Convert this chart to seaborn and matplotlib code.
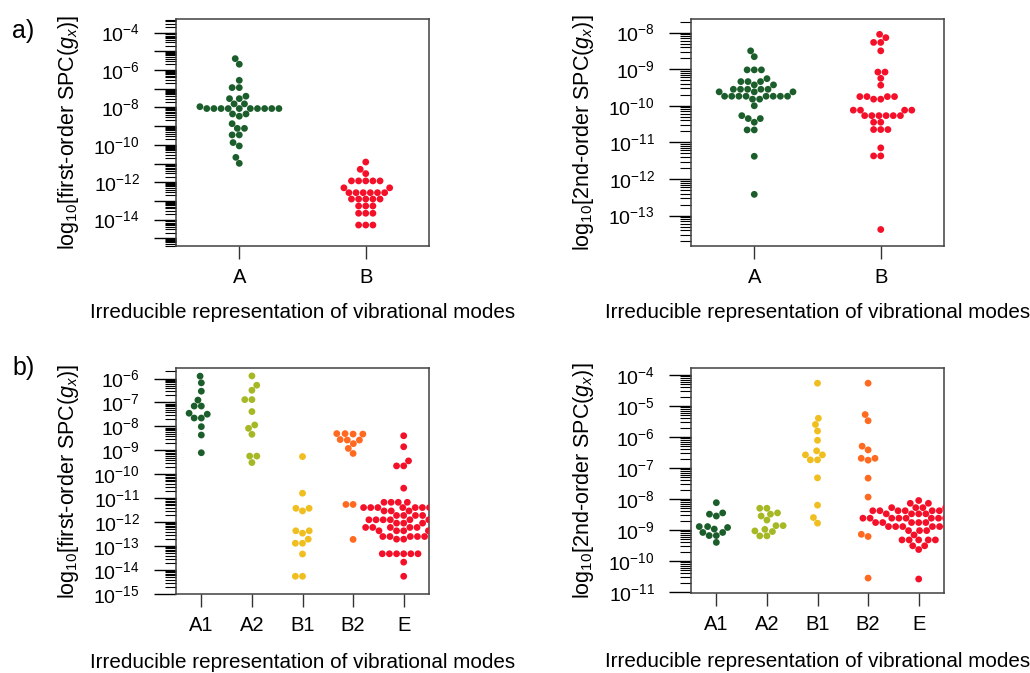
import numpy as np
import pandas as pd
import seaborn as sns
import matplotlib.pyplot as plt
from matplotlib import ticker
from seaborn import categorical

# log10 of SPC(g_x)
modes_a = ['A', 'B']
first_A = [-5.39, -5.69, -6.55, -6.94, -6.94, -7.40, -7.53, -7.53, -7.81, -7.81, -7.96,
           -8.06, -8.06, -8.06, -8.06, -8.06, -8.06, -8.06, -8.06, -8.06, -8.06,
           -8.35, -8.35, -8.47, -8.87, -9.12, -9.12, -9.47, -9.47, -9.88, -10.06, -10.67, -10.99]
first_B = [-10.92, -11.31, -11.54, -11.93, -11.93, -11.93, -11.93, -11.93, -12.30, -12.30,
           -12.56, -12.56, -12.56, -12.56, -12.56, -12.56, -12.90, -12.90, -12.90, -12.90, -12.90,
           -13.27, -13.27, -13.27, -13.66, -13.66, -13.66, -14.29, -14.29, -14.29]
second_A = [-8.50, -8.66, -9.02, -9.02, -9.02, -9.26, -9.34, -9.34, -9.34, -9.43, -9.43,
            -9.55, -9.55, -9.55, -9.55, -9.55, -9.62, -9.62, -9.62,
            -9.74, -9.74, -9.74, -9.74, -9.74, -9.74, -9.74, -9.74, -9.82, -9.82,
            -10.00, -10.27, -10.35, -10.35, -10.45, -10.66, -10.66, -11.38, -12.42]
second_B = [-8.05, -8.14, -8.27, -8.27, -8.50, -9.08, -9.08, -9.25, -9.44,
            -9.75, -9.75, -9.75, -9.75, -9.82, -9.82, -10.12, -10.12, -10.12, -10.12,
            -10.27, -10.27, -10.27, -10.27, -10.27, -10.27, -10.45, -10.45,
            -10.65, -10.65, -10.65, -11.15, -11.37, -11.37, -13.38]

modes_b = ['A1', 'A2', 'B1', 'B2', 'E']
first_A1 = [-5.90, -6.18, -6.53, -6.90, -7.15, -7.15, -7.45, -7.49, -7.65, -7.65, -8.01, -8.36, -9.10]
first_A2 = [-5.89, -6.28, -6.49, -6.88, -6.88, -7.38, -7.94, -8.08, -8.33, -9.24, -9.24, -9.51]
first_B1 = [-9.26, -10.79, -11.42, -11.42, -11.53, -12.36, -12.36, -12.46, -12.71, -12.88, -12.88,
            -13.33, -14.26, -14.26]
first_B2 = [-8.30, -8.30, -8.32, -8.32, -8.55, -8.57, -8.57, -8.72, -8.92, -9.13, -11.26, -11.26, -12.72]
first_E = ([-8.39, -8.85, -9.44, -9.65, -9.65, -10.58] + [-11.17] * 5 + [-11.39] * 9 + [-11.53] * 3
           + [-11.72] * 4 + [-11.90] * 8 + [-12.04] * 3 + [-12.22] * 7 + [-12.36] * 4
           + [-12.60] * 5 + [-12.71] * 2 + [-13.32] * 6 + [-13.67, -14.26])
second_A1 = [-8.12, -8.45, -8.49, -8.55, -8.89, -8.89, -8.92, -8.97, -9.08, -9.08, -9.18, -9.18, -9.40]
second_A2 = [-8.30, -8.30, -8.45, -8.49, -8.55, -8.68, -8.86, -8.86, -8.98, -9.03, -9.05, -9.19, -9.19]
second_B1 = [-4.27, -5.40, -5.60, -5.81, -6.11, -6.45, -6.58, -6.58, -6.74, -6.74, -7.32, -8.20, -8.60, -8.78]
second_B2 = [-4.27, -5.28, -5.48, -6.30, -6.42, -6.69, -6.69, -6.75, -7.33, -7.94, -9.14, -9.21, -10.55]
second_E = ([-8.05] + [-8.14] * 2 + [-8.28] * 4 + [-8.38] * 9 + [-8.48] * 5 + [-8.62] * 9
            + [-8.76] * 8 + [-8.89] * 6 + [-9.02] * 3 + [-9.16] + [-9.32] * 5 + [-9.51] * 2
            + [-9.63, -10.58])

colors_a = ['#1b5e2b', '#f5102a']
colors_b = ['#1b5e2b', '#a6b823', '#f0be1e', '#ff6a20', '#f5102a']

sns.set_style('ticks')
plt.rcParams['font.family'] = ['Liberation Sans', 'DejaVu Sans']
plt.rcParams['mathtext.fontset'] = 'custom'
plt.rcParams['mathtext.rm'] = 'Liberation Sans'
plt.rcParams['mathtext.it'] = 'Liberation Sans:italic'
for k in ['text.color', 'axes.labelcolor', 'xtick.color', 'ytick.color']:
    plt.rcParams[k] = 'black'

# R's beeswarm lets wide groups spill over their slot, so skip seaborn's squashing
categorical.Beeswarm.add_gutters = lambda self, points, *args, **kwargs: points

fig = plt.figure(figsize=(10.3, 6.73), dpi=100)


def panel(rect, modes, groups, colors, ylab, ylim, step=1, xlab_y=-0.295):
    ax = fig.add_axes(rect)
    df = pd.DataFrame({
        'mode': np.repeat(modes, [len(g) for g in groups]),
        'value': 10.0 ** np.concatenate(groups),
    })
    sns.swarmplot(data=df, x='mode', y='value', hue='mode', order=modes,
                  palette=dict(zip(modes, colors)), size=4.9, linewidth=0,
                  log_scale=True, legend=False, warn_thresh=1, ax=ax)
    ax.set_ylim(10.0 ** ylim[0], 10.0 ** ylim[1])
    ax.set_xlim(-0.5, len(modes) - 0.5)

    ax.yaxis.set_major_locator(ticker.LogLocator(base=10, numticks=40))
    ax.yaxis.set_minor_locator(ticker.LogLocator(base=10, subs=np.arange(2, 10), numticks=40))
    ax.yaxis.set_minor_formatter(ticker.NullFormatter())

    def fmt(v, pos):
        e = int(round(np.log10(v)))
        return f'$10^{{{e}}}$' if e % step == 0 else ''
    ax.yaxis.set_major_formatter(ticker.FuncFormatter(fmt))

    ax.tick_params(axis='y', which='major', length=16, width=1, pad=10, labelsize=14)
    ax.tick_params(axis='y', which='minor', length=8, width=0.8)
    ax.tick_params(axis='x', length=9.5, width=1, pad=6, labelsize=14.5, color='#333333')
    for s in ax.spines.values():
        s.set_color('#404040')
        s.set_linewidth(1.1)

    ax.set_xlabel('Irreducible representation of vibrational modes', fontsize=14.9)
    ax.xaxis.set_label_coords(0.5, xlab_y)
    ax.xaxis.label.set_va('center')
    ax.set_ylabel(ylab, fontsize=15.5)
    ax.yaxis.set_label_coords(-0.427, 0.5)
    ax.yaxis.label.set_va('center')
    return ax


lab1 = r'log$_{\rm 10}$[first-order SPC($g_x$)]'
lab2 = r'log$_{\rm 10}$[2nd-order SPC($g_x$)]'

panel([0.1709, 0.6345, 0.2456, 0.3373], modes_a, [first_A, first_B], colors_a,
      lab1, (-15.41, -3.27), step=2)
panel([0.6709, 0.6345, 0.2456, 0.3373], modes_a, [second_A, second_B], colors_a,
      lab2, (-13.83, -7.63))
panel([0.1709, 0.1174, 0.2456, 0.3358], modes_b,
      [first_A1, first_A2, first_B1, first_B2, first_E], colors_b,
      lab1, (-15.0, -5.56), xlab_y=-0.305)
panel([0.6709, 0.1189, 0.2456, 0.3343], modes_b,
      [second_A1, second_A2, second_B1, second_B2, second_E], colors_b,
      lab2, (-11.03, -3.78), xlab_y=-0.305)

fig.text(0.012, 1 - 31 / 673, 'a)', fontsize=18, va='center')
fig.text(0.012, 1 - 368 / 673, 'b)', fontsize=18, va='center')

fig.savefig('out.png', dpi=100)
